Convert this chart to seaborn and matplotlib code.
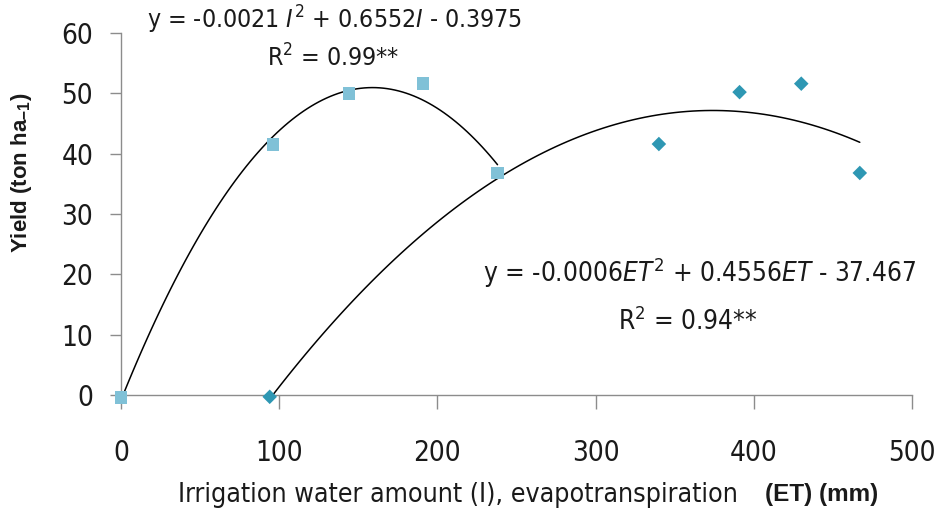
import matplotlib
matplotlib.use("Agg")
import matplotlib.pyplot as plt
import seaborn as sns
import pandas as pd

# data
irr_x = [0, 96, 144, 191, 238]
irr_y = [-0.4, 41.5, 50.0, 51.6, 36.8]
et_x = [94, 340, 391, 430, 467]
et_y = [-0.3, 41.6, 50.2, 51.6, 36.8]

x_ticks = [0, 100, 200, 300, 400, 500]
y_ticks = [0, 10, 20, 30, 40, 50, 60]

irr_df = pd.DataFrame({"x": irr_x, "y": irr_y})
et_df = pd.DataFrame({"x": et_x, "y": et_y})

W, H = 938, 514


def fx(px):
    return px / W


def fy(py):
    return 1 - py / H


sns.set_theme(style="white")
plt.rcParams["font.family"] = ["DejaVu Sans"]
plt.rcParams["font.stretch"] = "condensed"
plt.rcParams["mathtext.fontset"] = "custom"
plt.rcParams["mathtext.rm"] = "DejaVu Sans:stretch=condensed"
plt.rcParams["mathtext.it"] = "DejaVu Sans:italic:stretch=condensed"
plt.rcParams["mathtext.bf"] = "Liberation Sans:bold"

fig = plt.figure(figsize=(9.38, 5.14), dpi=100)
ax = fig.add_axes([fx(121), fy(395), 791 / W, 362 / H])

# fitted quadratic trend lines
sns.regplot(data=irr_df, x="x", y="y", order=2, ci=None, scatter=False,
            truncate=True, ax=ax, line_kws=dict(color="black", lw=1.1))
sns.regplot(data=et_df, x="x", y="y", order=2, ci=None, scatter=False,
            truncate=True, ax=ax, line_kws=dict(color="black", lw=1.1))

sns.scatterplot(data=irr_df, x="x", y="y", marker="s", s=80, color="#80C1D7",
                edgecolor="none", ax=ax, clip_on=False, zorder=5)
sns.scatterplot(data=et_df, x="x", y="y", marker="D", s=55, color="#2E97B3",
                edgecolor="none", ax=ax, clip_on=False, zorder=5)

ax.set_xlim(0, 500)
ax.set_ylim(0, 60)
ax.set_xticks(x_ticks)
ax.set_yticks(y_ticks)
ax.tick_params(axis="x", direction="out", length=10, width=1, color="#8c8c8c",
               pad=22, labelsize=20, bottom=True, labelcolor="#1a1a1a")
ax.tick_params(axis="y", direction="out", length=8, width=1, color="#8c8c8c",
               pad=12, labelsize=20, left=True, labelcolor="#1a1a1a")
for side in ["top", "right"]:
    ax.spines[side].set_visible(False)
for side in ["left", "bottom"]:
    ax.spines[side].set_color("#8c8c8c")
    ax.spines[side].set_linewidth(1)

ax.set_xlabel("")
ax.set_ylabel("")
fig.text(fx(22), fy(173), r"Yield (ton ha$_{\mathbf{-1}}$)", fontsize=16,
         fontweight="bold", family="Liberation Sans", rotation=90,
         ha="center", va="center", color="#1a1a1a")

xl = fig.text(fx(178), fy(495), "Irrigation water amount (I), evapotranspiration",
              fontsize=19.2, ha="left", va="center", color="#1a1a1a")
ax.annotate("    (ET) (mm)", xy=(1, 0.5), xycoords=xl, xytext=(0, 0),
            textcoords="offset points", fontsize=17.5, fontweight="bold",
            family="Liberation Sans", stretch="normal", ha="left", va="center",
            color="#1a1a1a")

fig.text(fx(147), fy(20), r"y = -0.0021 $\mathit{I}^{2}$ + 0.6552$\mathit{I}$ - 0.3975",
         fontsize=17.8, ha="left", va="center", color="#1a1a1a")
fig.text(fx(333), fy(58), r"R$^{2}$ = 0.99**", fontsize=17.8, ha="center",
         va="center", color="#1a1a1a")
fig.text(fx(483), fy(273), r"y = -0.0006$\mathit{ET}^{2}$ + 0.4556$\mathit{ET}$ - 37.467",
         fontsize=18.8, ha="left", va="center", color="#1a1a1a")
fig.text(fx(688), fy(322), r"R$^{2}$ = 0.94**", fontsize=18.8, ha="center",
         va="center", color="#1a1a1a")

fig.savefig("out.png", dpi=100)
